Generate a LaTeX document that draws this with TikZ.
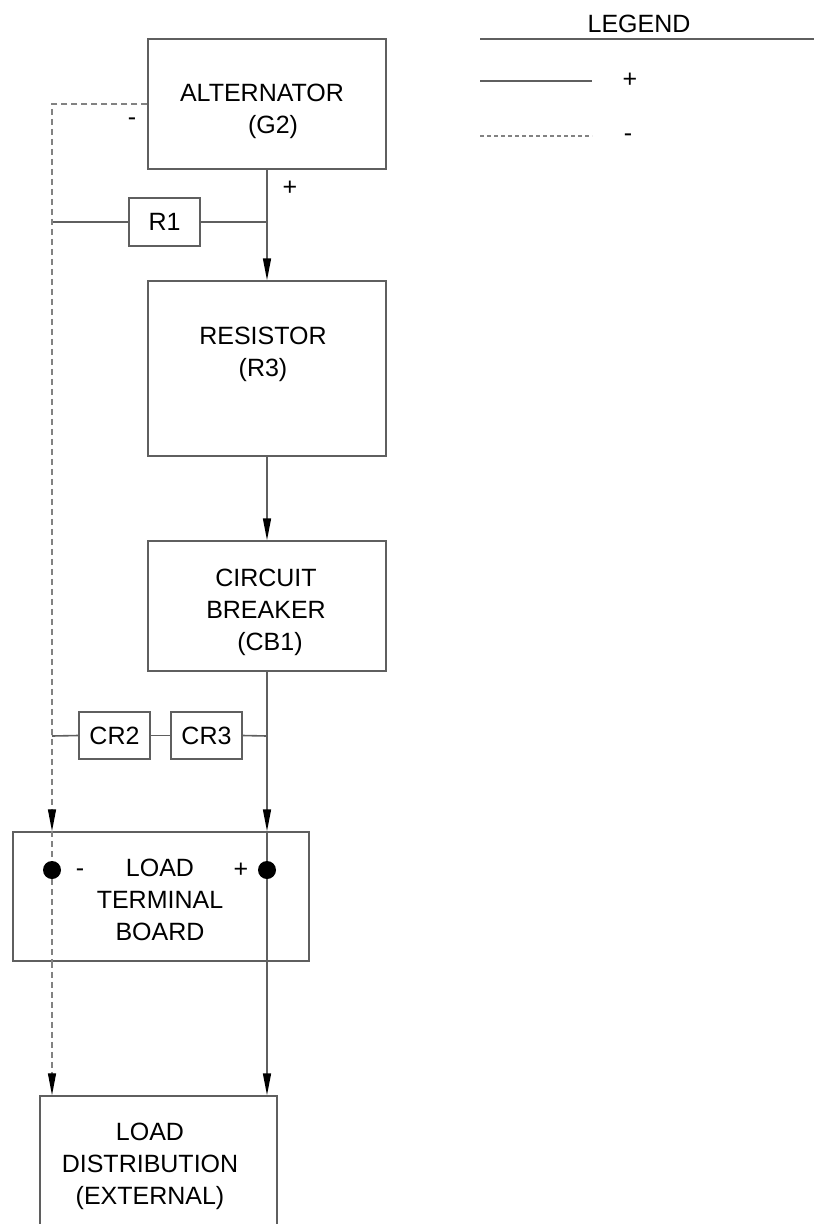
\documentclass[tikz,border=0pt]{standalone}
\usepackage{fontspec}
\setmainfont{Liberation Sans}
\usetikzlibrary{arrows.meta}
\definecolor{ln}{RGB}{95,95,95}
\definecolor{dl}{RGB}{130,130,130}
\begin{document}
\begin{tikzpicture}[x=1pt,y=-1pt,
  font=\fontsize{25}{32}\selectfont,
  rect/.style={draw=ln,line width=1.5pt,inner sep=0pt},
  txt/.style={align=center,inner sep=0pt,text=black},
  sym/.style={inner sep=0pt,text=black},
  posline/.style={draw=ln,line width=1.6pt},
  negline/.style={draw=dl,line width=1.4pt,dash pattern=on 6pt off 4pt},
  arr/.style={-{Triangle[length=22pt,width=8pt,color=black]}},
  dot/.style={circle,fill=black,minimum size=18pt,inner sep=0pt}]
\useasboundingbox (0,0) rectangle (814,1224);
% boxes
\node[rect,minimum width=238pt,minimum height=130pt] (alt) at (267,104) {};
\node[rect,minimum width=238pt,minimum height=175pt] (res) at (267,368.5) {};
\node[rect,minimum width=238pt,minimum height=130pt] (cb) at (267,606) {};
\node[rect,minimum width=71pt,minimum height=48pt] (r1) at (164.5,222) {R1};
\node[rect,minimum width=71pt,minimum height=47pt] (cr2) at (114.5,735.5) {CR2};
\node[rect,minimum width=71pt,minimum height=47pt] (cr3) at (206.5,735.5) {CR3};
\node[rect,minimum width=296pt,minimum height=129pt] (ltb) at (161,896.5) {};
\node[rect,minimum width=237pt,minimum height=140pt] (ld) at (158.5,1166) {};
% box texts
\node[txt] (altT) at (262,111) {ALTERNATOR\\\hspace*{22pt}(G2)};
\node[txt] (resT) at (263,354) {RESISTOR\\(R3)};
\node[txt] (cbT) at (266,612) {CIRCUIT\\BREAKER\\\hspace*{8pt}(CB1)};
\node[txt] (ltbT) at (160,900) {LOAD\\TERMINAL\\BOARD};
\node[txt] (ldT) at (150,1166) {LOAD\\DISTRIBUTION\\(EXTERNAL)};
% terminals
\node[dot] (dotM) at (52,870) {};
\node[dot] (dotP) at (267,870) {};
% junctions
\coordinate (j0) at (52,222);
\coordinate (j1) at (267,222);
\coordinate (j2) at (267,736);
\coordinate (j3) at (52,736);
% positive path
\draw[posline,arr] (alt.south) -- (res.north);
\draw[posline] (j0) -- (r1.west);
\draw[posline] (r1.east) -- (j1);
\draw[posline,arr] (res.south) -- (cb.north);
\draw[posline,arr] (cb.south) -- (ltb.north -| dotP);
\draw[posline] (ltb.north -| dotP) -- (dotP);
\draw[posline] (dotP) -- (ltb.south -| dotP);
\draw[posline,arr] (ltb.south -| dotP) -- (ld.north -| dotP);
\draw[posline] (j3) -- (cr2.west);
\draw[posline] (cr2.east) -- (cr3.west);
\draw[posline] (cr3.east) -- (j2);
% negative path
\draw[negline,arr] (alt.west) -| (ltb.north -| dotM);
\draw[negline] (ltb.north -| dotM) -- (dotM);
\draw[negline] (dotM) -- (ltb.south -| dotM);
\draw[negline,arr] (ltb.south -| dotM) -- (ld.north -| dotM);
% polarity marks
\node[sym] (mA) at (132,122) {-};
\node[sym] (pA) at (290,188) {+};
\node[sym] (mB) at (80,873) {-};
\node[sym] (pB) at (241,870) {+};
% legend
\node[sym] (legT) at (639,24) {LEGEND};
\coordinate (lgA) at (480,39);
\coordinate (lgB) at (814,39);
\draw[draw=ln,line width=1.5pt] (lgA) -- (lgB);
\coordinate (lgC) at (480,81);
\coordinate (lgD) at (592,81);
\draw[posline] (lgC) -- (lgD);
\node[sym] (lgP) at (630,80) {+};
\coordinate (lgE) at (480,136);
\coordinate (lgF) at (592,136);
\draw[draw=dl,line width=1.2pt,dash pattern=on 4pt off 3pt] (lgE) -- (lgF);
\node[sym] (lgM) at (628,138) {-};
\end{tikzpicture}
\end{document}
